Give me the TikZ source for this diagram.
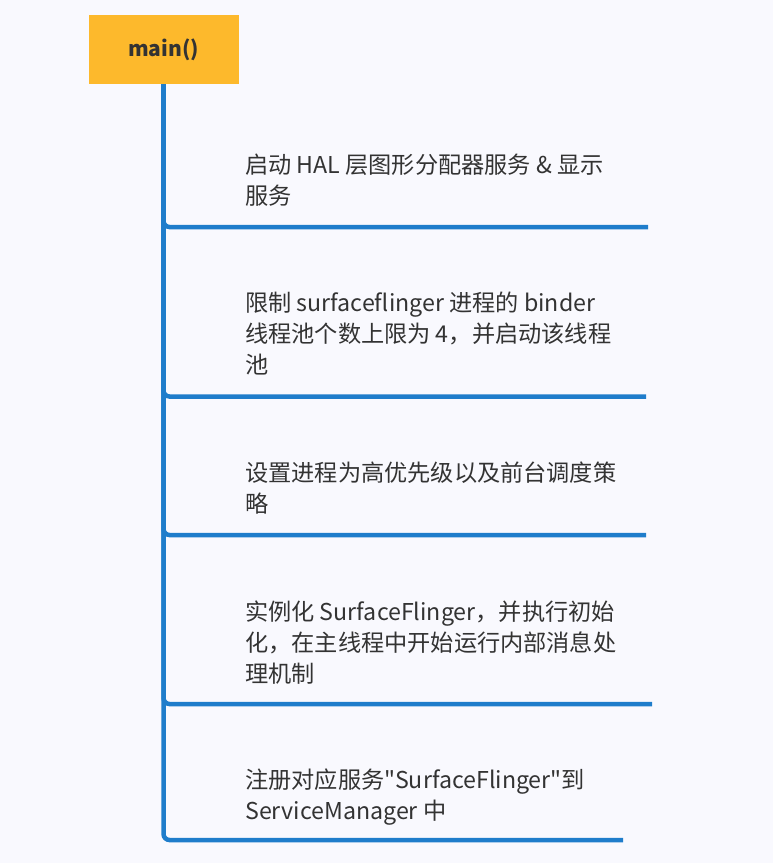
\documentclass[tikz,border=0pt]{standalone}
\usepackage{fontspec}
\setmainfont{Noto Sans CJK SC}
\newfontfamily\cjkfont{Noto Sans CJK SC}
\usetikzlibrary{positioning}
\definecolor{ink}{HTML}{333333}
\definecolor{accent}{HTML}{1F7DCB}
\definecolor{panel}{HTML}{FDB92C}
\definecolor{paper}{HTML}{F9F9FE}

\begin{document}
\begin{tikzpicture}[x=1pt,y=-1pt,
  root/.style={fill=panel,minimum width=150pt,minimum height=69pt,inner sep=0pt,
    text=ink,font=\fontsize{21}{24}\selectfont\bfseries},
  item/.style={anchor=base west,align=left,inner sep=0pt,text=ink,
    font=\cjkfont\fontsize{23.2}{31}\selectfont},
  branch/.style={draw=accent,line width=4.5pt,rounded corners=6pt}
]
\fill[paper] (0,0) rectangle (773,863);
\useasboundingbox (0,0) rectangle (773,863);
\node[root] (main) at (163.5,49.5) {main()};
% base anchor sits on the last line of each block
\node[item] (hal) at (245,204) {启动 HAL 层图形分配器服务 \& 显示\\服务};
\node[item] (binder) at (245,373) {限制 surfaceflinger 进程的 binder\\线程池个数上限为 4，并启动该线程\\池};
\node[item] (prio) at (245,512) {设置进程为高优先级以及前台调度策\\略};
\node[item] (init) at (245,682) {实例化 SurfaceFlinger，并执行初始\\化，在主线程中开始运行内部消息处\\理机制};
\node[item] (reg) at (245,819) {注册对应服务"SurfaceFlinger"到\\ServiceManager 中};
\coordinate (e1) at (648,227);
\coordinate (e2) at (646,396.5);
\coordinate (e3) at (646,535);
\coordinate (e4) at (652,704);
\coordinate (e5) at (623,840);
\foreach \e in {e1,e2,e3,e4,e5}
  \draw[branch] (main.south) |- (\e);
\end{tikzpicture}
\end{document}
